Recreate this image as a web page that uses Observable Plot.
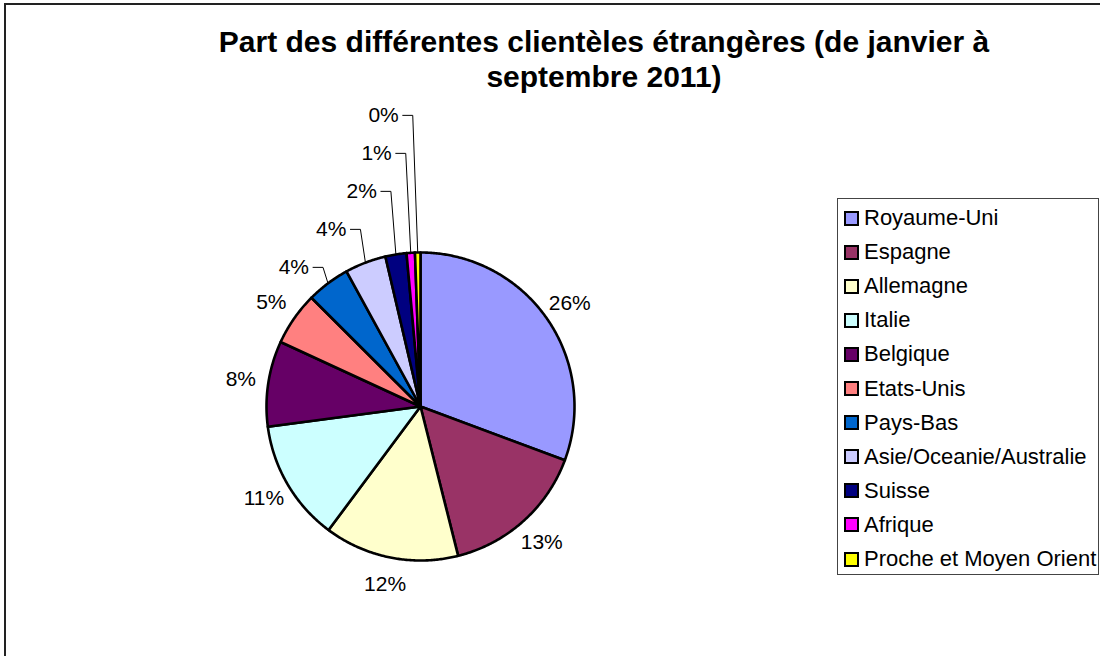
<!DOCTYPE html>
<html><head><meta charset="utf-8">
<script src="https://cdn.jsdelivr.net/npm/d3@7"></script>
<script src="https://cdn.jsdelivr.net/npm/@observablehq/plot@0.6"></script>
<style>
html,body{margin:0;padding:0;background:#fff;}
body{width:1100px;height:656px;overflow:hidden;position:relative;font-family:"Liberation Sans",Arial,sans-serif;}
#frame{position:absolute;left:4px;top:3px;width:1300px;height:900px;border-left:2px solid #222;border-top:2px solid #222;box-sizing:border-box;}
#chart{position:absolute;left:0;top:0;}
#title{position:absolute;left:204px;width:800px;top:24px;text-align:center;font-weight:bold;font-size:30px;line-height:35px;color:#000;white-space:nowrap;}
#legend{position:absolute;left:837px;top:198px;width:262px;height:377px;border:1.5px solid #444;box-sizing:border-box;background:#fff;}
.row{position:absolute;left:0;height:30px;display:flex;align-items:center;}
.sw{width:15px;height:15px;border:2px solid #000;box-sizing:border-box;margin-left:6px;margin-right:5px;}
.lt{font-size:22px;color:#000;white-space:nowrap;}
</style></head>
<body>
<div id="frame"></div>
<div id="chart"></div>
<div id="title"></div>
<div id="legend"></div>
<script>
const titleLines = ["Part des différentes clientèles étrangères (de janvier à", "septembre 2011)"];
const names = ["Royaume-Uni","Espagne","Allemagne","Italie","Belgique","Etats-Unis","Pays-Bas","Asie/Oceanie/Australie","Suisse","Afrique","Proche et Moyen Orient"];
const values = [26.3, 13.2, 12.1, 10.9, 7.7, 4.8, 3.9, 3.7, 1.9, 0.75, 0.49];
const pctLabels = ["26%","13%","12%","11%","8%","5%","4%","4%","2%","1%","0%"];
const colors = ["#9999FF","#993366","#FFFFCC","#CCFFFF","#660066","#FF8080","#0066CC","#CCCCFF","#000080","#FF00FF","#FFFF00"];

// layout
const W = 1100, H = 656, R = 154, CX = 420, CY = 406;
const labelR = 1.18;          // outside label radius (in pie radii)
const firstStacked = 6;       // labels from this index are stacked with leader lines
const stackStep = 38 / R, stackLift = 16 / R, stackGap = 19 / R;

document.getElementById("title").innerHTML = titleLines.join("<br>");

const pie = d3.pie().sort(null).value(d => d.value);
const data = names.map((name, i) => ({name, value: values[i], label: pctLabels[i]}));
const arcs = pie(data);

// polygons for the slices
const poly = [];
for (const a of arcs) {
  poly.push({name: a.data.name, x: 0, y: 0});
  const n = Math.max(2, Math.ceil((a.endAngle - a.startAngle) / (Math.PI / 360)));
  for (let k = 0; k <= n; k++) {
    const t = a.startAngle + (a.endAngle - a.startAngle) * k / n;
    poly.push({name: a.data.name, x: Math.sin(t), y: Math.cos(t)});
  }
  poly.push({name: a.data.name, x: 0, y: 0});
}

// labels
const lab = [];
const leaders = [];
let baseY = null;
arcs.forEach((a, i) => {
  const m = (a.startAngle + a.endAngle) / 2;
  const ax = Math.sin(m), ay = Math.cos(m);
  if (i < firstStacked) {
    lab.push({x: ax * labelR, y: ay * labelR, text: a.data.label, anchor: "middle"});
  } else {
    if (baseY === null) baseY = ay + stackLift;
    const ly = baseY + (i - firstStacked) * stackStep;
    const lx = ax - stackGap;
    lab.push({x: lx, y: ly, text: a.data.label, anchor: "end"});
    leaders.push({id: i, x: ax, y: ay});
    leaders.push({id: i, x: ax - 5 / R, y: ly});
    leaders.push({id: i, x: lx + 4 / R, y: ly});
  }
});

const plot = Plot.plot({
  width: W, height: H, margin: 0,
  style: {fontFamily: "'Liberation Sans', Arial, sans-serif", background: "transparent"},
  x: {domain: [-CX / R, (W - CX) / R], axis: null},
  y: {domain: [-(H - CY) / R, CY / R], axis: null},
  color: {domain: names, range: colors},
  marks: [
    Plot.line(poly, {x: "x", y: "y", z: "name", fill: "name", stroke: "#000", strokeWidth: 2.6, strokeLinejoin: "round", curve: "linear"}),
    Plot.line(leaders, {x: "x", y: "y", z: "id", stroke: "#000", strokeWidth: 1, curve: "linear"}),
    Plot.text(lab.filter(d => d.anchor === "middle"), {x: "x", y: "y", text: "text", fontSize: 21, fill: "#000", textAnchor: "middle"}),
    Plot.text(lab.filter(d => d.anchor === "end"), {x: "x", y: "y", text: "text", fontSize: 21, fill: "#000", textAnchor: "end"})
  ]
});
document.getElementById("chart").appendChild(plot);

// legend
const leg = document.getElementById("legend");
const rowTop = 4, rowStep = 34.1;
names.forEach((n, i) => {
  const row = document.createElement("div");
  row.className = "row";
  row.style.top = (rowTop + i * rowStep) + "px";
  const sw = document.createElement("div");
  sw.className = "sw";
  sw.style.background = colors[i];
  const t = document.createElement("span");
  t.className = "lt";
  t.textContent = n;
  row.appendChild(sw); row.appendChild(t);
  leg.appendChild(row);
});
</script>
</body></html>
